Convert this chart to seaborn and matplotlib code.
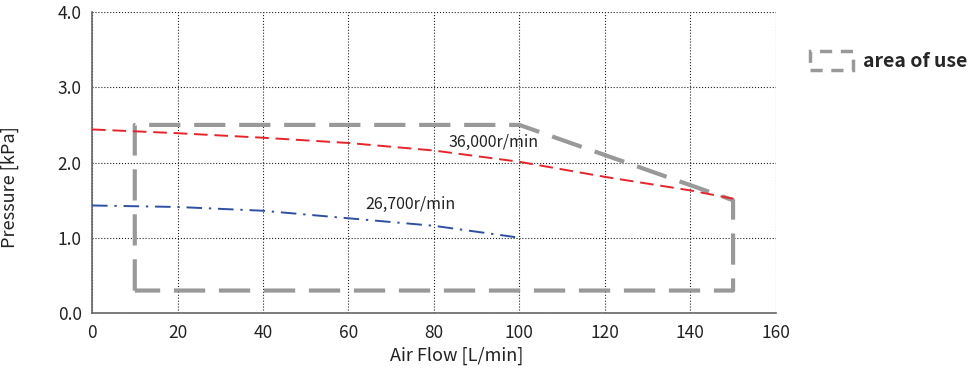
import pandas as pd
import matplotlib.pyplot as plt
import seaborn as sns
from matplotlib.patches import Rectangle

# Curve data
flow_36000 = [0, 20, 40, 60, 80, 100, 120, 140, 150]
press_36000 = [2.44, 2.39, 2.33, 2.26, 2.16, 2.01, 1.81, 1.63, 1.52]

flow_26700 = [0, 20, 40, 60, 80, 99]
press_26700 = [1.43, 1.41, 1.36, 1.26, 1.16, 1.01]

# Area of use outline
area_flow = [10, 10, 100, 150, 150, 10]
area_press = [0.3, 2.5, 2.5, 1.5, 0.3, 0.3]

x_ticks = [0, 20, 40, 60, 80, 100, 120, 140, 160]
y_ticks = [0.0, 1.0, 2.0, 3.0, 4.0]

sns.set_style("white")
plt.rcParams['font.family'] = ['Noto Sans CJK JP', 'DejaVu Sans']

fig = plt.figure(figsize=(9.74, 3.75), dpi=100)
ax = fig.add_axes([0.0945, 0.165, 0.702, 0.803])

area_df = pd.DataFrame({'flow': area_flow, 'press': area_press})
sns.lineplot(data=area_df, x='flow', y='press', sort=False, estimator=None,
             color='#999999', linewidth=3.0, linestyle=(0, (7.5, 3.3)),
             ax=ax, zorder=3)

df36 = pd.DataFrame({'flow': flow_36000, 'press': press_36000})
sns.lineplot(data=df36, x='flow', y='press', estimator=None, color='#e8232a',
             linewidth=1.4, linestyle=(0, (7, 3.5)), ax=ax, zorder=4)

df26 = pd.DataFrame({'flow': flow_26700, 'press': press_26700})
sns.lineplot(data=df26, x='flow', y='press', estimator=None, color='#2e4fa3',
             linewidth=1.4, linestyle=(0, (8, 3.5, 1.2, 3.5)), ax=ax, zorder=4)

ax.text(94, 2.27, '36,000r/min', fontsize=11.5, ha='center', va='center', color='#222222')
ax.text(74.5, 1.44, '26,700r/min', fontsize=11.5, ha='center', va='center', color='#222222')

ax.set_xlim(0, 160)
ax.set_ylim(0, 4.0)
ax.set_xticks(x_ticks)
ax.set_yticks(y_ticks)
ax.set_yticklabels([f'{v:.1f}' for v in y_ticks])
ax.tick_params(labelsize=12.5, labelcolor='#222222', color='#333333', length=4,
               width=1.0, direction='out')
ax.grid(True, color='#222222', linestyle=':', linewidth=0.8)
for s in ['top', 'right']:
    ax.spines[s].set_visible(False)
for s in ['left', 'bottom']:
    ax.spines[s].set_color('#666666')
    ax.spines[s].set_linewidth(1.2)

ax.set_xlabel('Air Flow [L/min]', fontsize=13, color='#222222', va='top')
ax.set_ylabel('Pressure [kPa]', fontsize=13, color='#222222')
ax.xaxis.set_label_coords(0.534, -0.11)
ax.yaxis.set_label_coords(-0.107, 0.42)

# legend for area of use
handle = Rectangle((0, 0), 1, 1, fill=False, edgecolor='#999999', linewidth=2.5,
                   linestyle=(0, (3.5, 2.5)))
fig.legend([handle], ['area of use'], loc='center left', bbox_to_anchor=(0.832, 0.837),
           frameon=False, prop={'size': 14, 'weight': 'bold'}, handlelength=2.2,
           handleheight=1.1, handletextpad=0.5, borderpad=0, borderaxespad=0)

fig.savefig('out.png', dpi=100)
